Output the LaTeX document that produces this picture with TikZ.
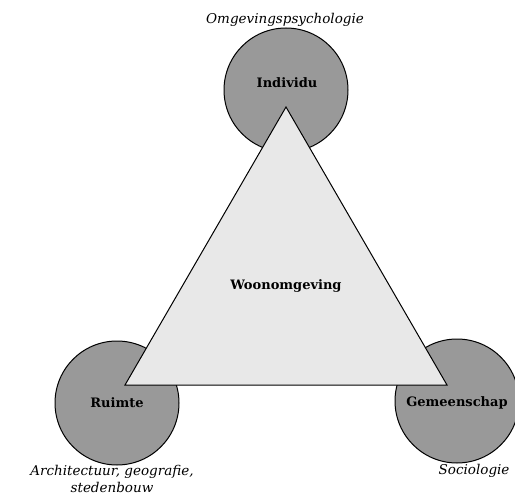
\documentclass[tikz,border=0pt]{standalone}
\usepackage{fontspec}
\setmainfont{DejaVu Serif}
\usepackage{tikz}
\usetikzlibrary{positioning}

\tikzset{
	veld/.style={circle,draw,line width=1pt,fill=gray!80,minimum size=124pt,inner sep=0pt},
	naam/.style={font=\bfseries\fontsize{13}{15}\selectfont},
	vak/.style={font=\itshape\fontsize{13.5}{17}\selectfont,align=center}
}

\begin{document}
\begin{tikzpicture}[x=1pt,y=-1pt]
		\useasboundingbox (0,0) rectangle (515,495);
		\node[veld] (individu) at (286,90) {};
		\node[veld] (ruimte) at (117,403) {};
		\node[veld] (gemeenschap) at (457,401) {};
		\coordinate (top) at (286,107);
		\coordinate (links) at (125,385);
		\coordinate (rechts) at (447,385);
		\draw[line width=1pt,fill=gray!18] (top) -- (links) -- (rechts) -- cycle;
		\node[naam] (woon) at (286,286) {Woonomgeving};
		\node[naam] (individutxt) at (287,83) {Individu};
		\node[naam] (ruimtetxt) at (117,403) {Ruimte};
		\node[naam] (gemeenschaptxt) at (457,403) {Gemeenschap};
		\node[vak] (psych) at (285,20) {Omgevingspsychologie};
		\node[vak] (archi) at (112,479) {Architectuur, geografie,\\stedenbouw};
		\node[vak,anchor=east] (socio) at (513,471) {Sociologie};
	\end{tikzpicture}
\end{document}
